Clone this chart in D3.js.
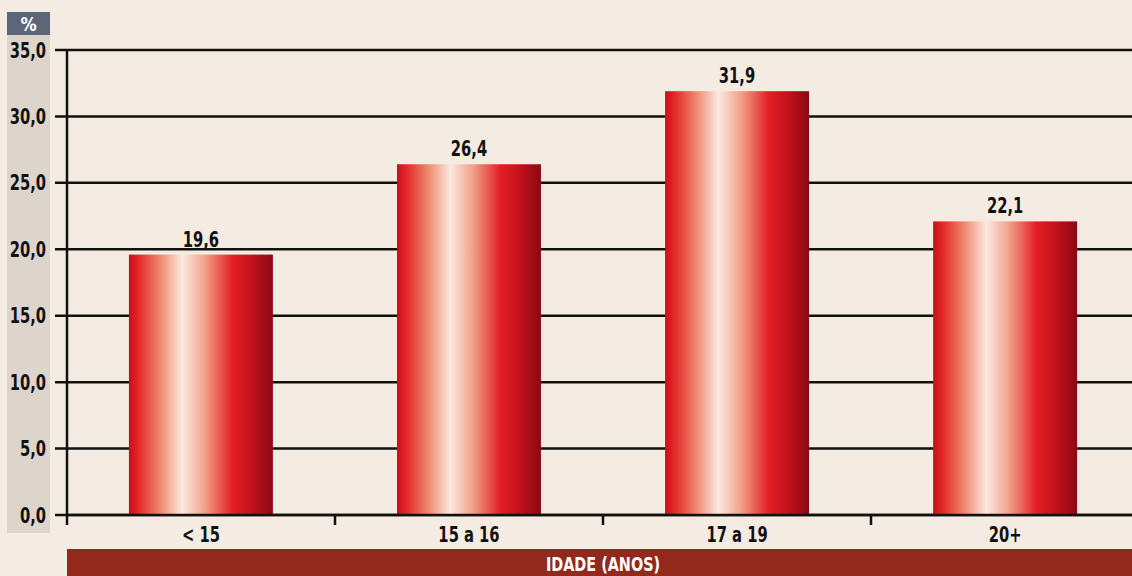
<!DOCTYPE html>
<html lang="pt">
<head>
<meta charset="UTF-8">
<title>Idade</title>
<style>
  body { margin: 0; background: #f4ece2; }
  svg { display: block; }
  .lbl { font-family: "DejaVu Sans Condensed", "DejaVu Sans", sans-serif; font-weight: bold; }
</style>
</head>
<body>
<script src="https://d3js.org/d3.v7.min.js"></script>
<script>
const categories = ['< 15', '15 a 16', '17 a 19', '20+'];
const values = [19.6, 26.4, 31.9, 22.1];
const valueLabels = ['19,6', '26,4', '31,9', '22,1'];
const yTicks = [0, 5, 10, 15, 20, 25, 30, 35];

const W = 1132, H = 576;
const plotLeft = 67, plotTop = 50, plotBottom = 515;

const svg = d3.select('body').append('svg')
  .attr('width', W).attr('height', H);

svg.append('rect').attr('width', W).attr('height', H).attr('fill', '#f4ece2');

// narrow text: squeeze a normal font horizontally
function label(g, px, py, txt, opts) {
  const o = Object.assign({ size: 21, sx: 0.78, anchor: 'middle', fill: '#111' }, opts);
  return g.append('text').attr('class', 'lbl')
    .attr('transform', `translate(${px},${py}) scale(${o.sx},1)`)
    .attr('text-anchor', o.anchor).attr('font-size', o.size).attr('fill', o.fill)
    .text(txt);
}

// gradient for bars
const defs = svg.append('defs');
const grad = defs.append('linearGradient').attr('id', 'barGrad')
  .attr('x1', '0%').attr('x2', '100%').attr('y1', '0%').attr('y2', '0%');
[[0, '#c5101c'], [0.07, '#e52a28'], [0.22, '#ee8b70'], [0.37, '#fce9e0'],
 [0.53, '#f0a088'], [0.72, '#e41d24'], [0.85, '#c3121c'], [1, '#8a0913']]
  .forEach(s => grad.append('stop').attr('offset', s[0]).attr('stop-color', s[1]));

const x = d3.scaleBand().domain(categories).range([plotLeft, plotLeft + 268 * 4])
  .paddingInner(0.463).paddingOuter(0.231);
const y = d3.scaleLinear().domain([0, 35]).range([plotBottom, plotTop]);

// y label strip
svg.append('rect').attr('x', 7).attr('y', 35).attr('width', 43).attr('height', 498).attr('fill', '#ddd5cc');
svg.append('rect').attr('x', 7).attr('y', 12).attr('width', 43).attr('height', 23).attr('fill', '#5b6678');
label(svg, 28.5, 31, '%', { size: 20, sx: 0.9, fill: '#fff' });

// gridlines + y ticks
const yAxis = svg.append('g');
yTicks.forEach(t => {
  yAxis.append('line').attr('x1', 55).attr('x2', W).attr('y1', y(t)).attr('y2', y(t))
    .attr('stroke', '#111').attr('stroke-width', 2.5);
  label(yAxis, 46, y(t) + 7.5, d3.format('.1f')(t).replace('.', ','), { anchor: 'end' });
});

// bars
svg.selectAll('rect.bar').data(values).join('rect').attr('class', 'bar')
  .attr('x', (d, i) => x(categories[i])).attr('width', x.bandwidth())
  .attr('y', d => y(d)).attr('height', d => plotBottom - y(d))
  .attr('fill', 'url(#barGrad)');

values.forEach((v, i) => {
  label(svg, x(categories[i]) + x.bandwidth() / 2, y(v) - 8, valueLabels[i]);
});

// axes lines
svg.append('line').attr('x1', plotLeft).attr('x2', plotLeft).attr('y1', plotTop).attr('y2', 525)
  .attr('stroke', '#111').attr('stroke-width', 2.5);
svg.append('line').attr('x1', plotLeft).attr('x2', W).attr('y1', plotBottom).attr('y2', plotBottom)
  .attr('stroke', '#111').attr('stroke-width', 2.5);
[1, 2, 3].forEach(k => {
  svg.append('line').attr('x1', plotLeft + 268 * k).attr('x2', plotLeft + 268 * k)
    .attr('y1', plotBottom).attr('y2', 525).attr('stroke', '#111').attr('stroke-width', 2.5);
});

categories.forEach(c => {
  label(svg, x(c) + x.bandwidth() / 2, 542, c);
});

// bottom band
svg.append('rect').attr('x', plotLeft).attr('y', 549).attr('width', W - plotLeft).attr('height', 27).attr('fill', '#93291c');
label(svg, 603, 571, 'IDADE (ANOS)', { size: 20, sx: 0.8, fill: '#fff' });
</script>
</body>
</html>
